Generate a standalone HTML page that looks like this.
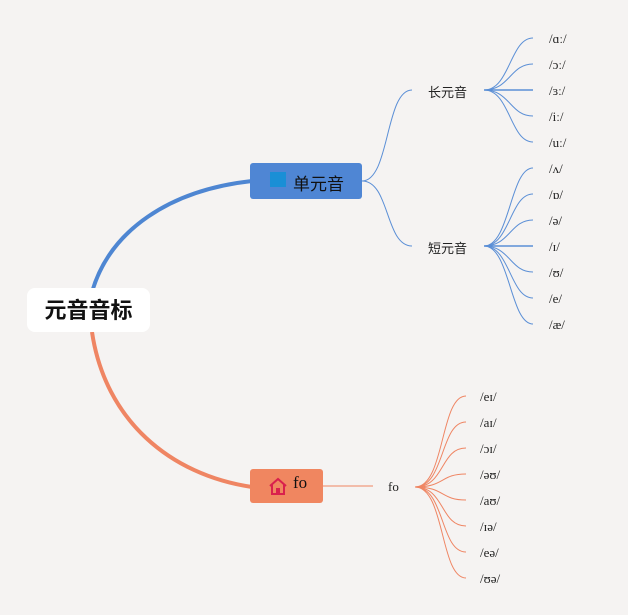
<!DOCTYPE html>
<html><head><meta charset="utf-8"><style>
body{margin:0;background:#f5f3f2;width:628px;height:615px;overflow:hidden;position:relative;font-family:"Liberation Sans","Noto Sans CJK SC",sans-serif}
.t{position:absolute;font-size:13px;color:#222;white-space:nowrap}
.s{font-family:"Liberation Serif","DejaVu Serif",serif;font-size:13px}
</style></head><body>
<svg width="628" height="615" style="position:absolute;left:0;top:0">
<path d="M92 292 C110 230,170 190,252 181" stroke="#4e86d2" stroke-width="4" fill="none"/>
<path d="M92 332 C105 420,170 475,252 487" stroke="#ef8563" stroke-width="4" fill="none"/>
<g stroke="#5b8fd6" stroke-width="1" fill="none">
<path d="M362 181 C390 181,385 90,412 90"/>
<path d="M362 181 C390 181,385 246,412 246"/>
<path d="M484 90 C510 90,510 38,533 38"/><path d="M484 90 C510 90,510 64,533 64"/><path d="M484 90 L533 90" stroke-width="1.5"/><path d="M484 90 C510 90,510 116,533 116"/><path d="M484 90 C510 90,510 142,533 142"/>
<path d="M484 246 C510 246,510 168,533 168"/><path d="M484 246 C510 246,510 194,533 194"/><path d="M484 246 C510 246,510 220,533 220"/><path d="M484 246 L533 246" stroke-width="1.5"/><path d="M484 246 C510 246,510 272,533 272"/><path d="M484 246 C510 246,510 298,533 298"/><path d="M484 246 C510 246,510 324,533 324"/>
</g>
<g stroke="#ef8563" stroke-width="1" fill="none">
<path d="M323 486 L373 486"/>
<path d="M415 487 C445 487,440 396,466 396"/><path d="M415 487 C445 487,440 422,466 422"/><path d="M415 487 C445 487,440 448,466 448"/><path d="M415 487 C445 487,440 474,466 474"/><path d="M415 487 C445 487,440 500,466 500"/><path d="M415 487 C445 487,440 526,466 526"/><path d="M415 487 C445 487,440 552,466 552"/><path d="M415 487 C445 487,440 578,466 578"/>
</g>
</svg>
<div style="position:absolute;left:27px;top:288px;width:123px;height:44px;background:#fff;border-radius:8px;font-weight:bold;font-size:22px;line-height:46px;text-align:center;color:#111">元音音标</div>
<div style="position:absolute;left:250px;top:163px;width:112px;height:36px;background:#4f86d4;border-radius:3px"></div>
<div style="position:absolute;left:270px;top:172px;width:16px;height:15px;background:#1a8fd6"></div>
<div class="t" style="left:293px;top:170px;font-size:17px;color:#111">单元音</div>
<div style="position:absolute;left:250px;top:469px;width:73px;height:34px;background:#f08660;border-radius:3px"></div>
<svg width="20" height="20" style="position:absolute;left:268px;top:476px"><path d="M2 10 L10 3 L18 10 M4 8 V18 H16 V8" stroke="#d9204d" stroke-width="2" fill="none"/><rect x="8" y="12" width="4" height="6" fill="#d9204d"/></svg>
<div class="t s" style="left:293px;top:473px;font-size:17px;color:#111">fo</div>
<div class="t" style="left:428px;top:82px">长元音</div>
<div class="t" style="left:428px;top:238px">短元音</div>
<div class="t s" style="left:388px;top:479px">fo</div>
<div class="t s" style="left:549px;top:31px">/ɑː/</div>
<div class="t s" style="left:549px;top:57px">/ɔː/</div>
<div class="t s" style="left:549px;top:83px">/ɜː/</div>
<div class="t s" style="left:549px;top:109px">/iː/</div>
<div class="t s" style="left:549px;top:135px">/uː/</div>
<div class="t s" style="left:549px;top:161px">/ʌ/</div>
<div class="t s" style="left:549px;top:187px">/ɒ/</div>
<div class="t s" style="left:549px;top:213px">/ə/</div>
<div class="t s" style="left:549px;top:239px">/ɪ/</div>
<div class="t s" style="left:549px;top:265px">/ʊ/</div>
<div class="t s" style="left:549px;top:291px">/e/</div>
<div class="t s" style="left:549px;top:317px">/æ/</div>
<div class="t s" style="left:480px;top:389px">/eɪ/</div>
<div class="t s" style="left:480px;top:415px">/aɪ/</div>
<div class="t s" style="left:480px;top:441px">/ɔɪ/</div>
<div class="t s" style="left:480px;top:467px">/əʊ/</div>
<div class="t s" style="left:480px;top:493px">/aʊ/</div>
<div class="t s" style="left:480px;top:519px">/ɪə/</div>
<div class="t s" style="left:480px;top:545px">/eə/</div>
<div class="t s" style="left:480px;top:571px">/ʊə/</div>
</body></html>
